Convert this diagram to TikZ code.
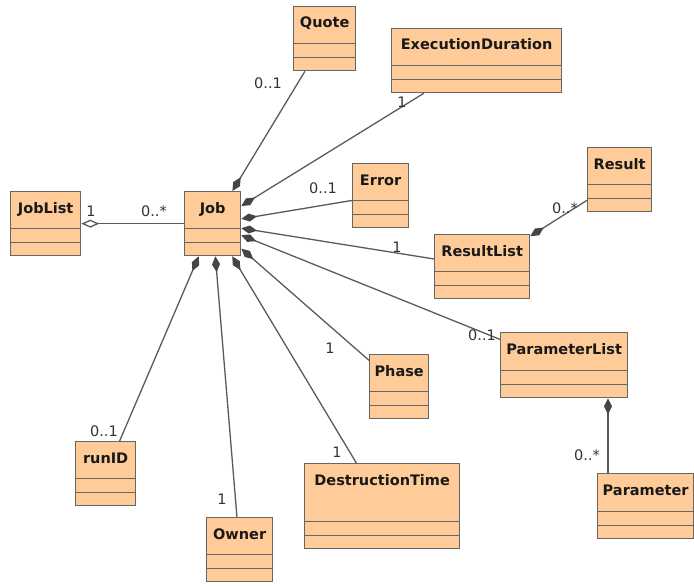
\documentclass[tikz,border=0pt]{standalone}
\usepackage{fontspec}
\setmainfont{DejaVu Sans}
\usetikzlibrary{arrows.meta}
\definecolor{classfill}{HTML}{FFCC99}
\definecolor{classdraw}{HTML}{666666}
\definecolor{assocgray}{HTML}{5A5A5A}
\definecolor{diamondgray}{HTML}{454545}
\tikzset{
classbox/.style={draw=classdraw, fill=classfill, line width=1.3pt, inner sep=0pt},
classname/.style={font=\fontsize{14.5}{16}\selectfont\bfseries, text=black!90, inner sep=0pt},
mult/.style={font=\fontsize{14.5}{16}\selectfont, text=black!80, inner sep=0pt},
compos/.style={draw=assocgray, line width=1.3pt, {Diamond[length=16pt,width=8pt,color=diamondgray,fill=diamondgray]}-},
aggr/.style={draw=assocgray, line width=1.3pt, {Diamond[open,length=18pt,width=8pt]}-}
}
\newcommand{\umlclass}[5]{
\node[classbox, anchor=north west, minimum width=#3pt, minimum height=#4pt] (#1) at (#2) {};
\node[classname, anchor=base] (#1-name) at ([yshift=-22pt]#1.north) {#5};
\draw[draw=classdraw, line width=1.3pt] ([yshift=14pt]#1.south west) -- ([yshift=14pt]#1.south east);
\draw[draw=classdraw, line width=1.3pt] ([yshift=28pt]#1.south west) -- ([yshift=28pt]#1.south east);
}
\begin{document}
\begin{tikzpicture}[x=1pt, y=-1pt]
\useasboundingbox (0,0) rectangle (694,586);
\umlclass{quote}{293,6}{62}{64}{Quote}
\umlclass{execdur}{391,28}{170}{64}{ExecutionDuration}
\umlclass{joblist}{10,191}{70}{64}{JobList}
\umlclass{job}{184,191}{56}{64}{Job}
\umlclass{error}{352,163}{56}{64}{Error}
\umlclass{result}{587,147}{64}{64}{Result}
\umlclass{resultlist}{434,234}{95}{64}{ResultList}
\umlclass{paramlist}{500,332}{127}{65}{ParameterList}
\umlclass{phase}{369,354}{59}{64}{Phase}
\umlclass{runid}{75,441}{60}{64}{runID}
\umlclass{desttime}{304,463}{155}{85}{DestructionTime}
\umlclass{param}{597,473}{96}{65}{Parameter}
\umlclass{owner}{206,517}{66}{64}{Owner}
\draw[aggr] (joblist) -- (job);
\draw[compos] (job) -- (quote);
\draw[compos] (job) -- (execdur);
\draw[compos] (job) -- (error);
\draw[compos] (job) -- (resultlist);
\draw[compos] (job) -- (paramlist);
\draw[compos] (job) -- (phase);
\draw[compos] (job) -- (desttime);
\draw[compos] (job) -- (owner);
\draw[compos] (job) -- (runid);
\draw[compos] (resultlist) -- (result);
\coordinate (paramcol) at (608,0);
\draw[compos] (paramlist.south -| paramcol) -- (param.north -| paramcol);
\node[mult] (m-joblist) at (91,211) {1};
\node[mult] (m-job) at (154,211) {0..*};
\node[mult] (m-quote) at (268,83) {0..1};
\node[mult] (m-execdur) at (402,102) {1};
\node[mult] (m-error) at (323,188) {0..1};
\node[mult] (m-result) at (565,208) {0..*};
\node[mult] (m-resultlist) at (397,247) {1};
\node[mult] (m-paramlist) at (482,335) {0..1};
\node[mult] (m-phase) at (330,348) {1};
\node[mult] (m-desttime) at (337,452) {1};
\node[mult] (m-owner) at (222,499) {1};
\node[mult] (m-runid) at (104,431) {0..1};
\node[mult] (m-param) at (587,455) {0..*};
\end{tikzpicture}
\end{document}
